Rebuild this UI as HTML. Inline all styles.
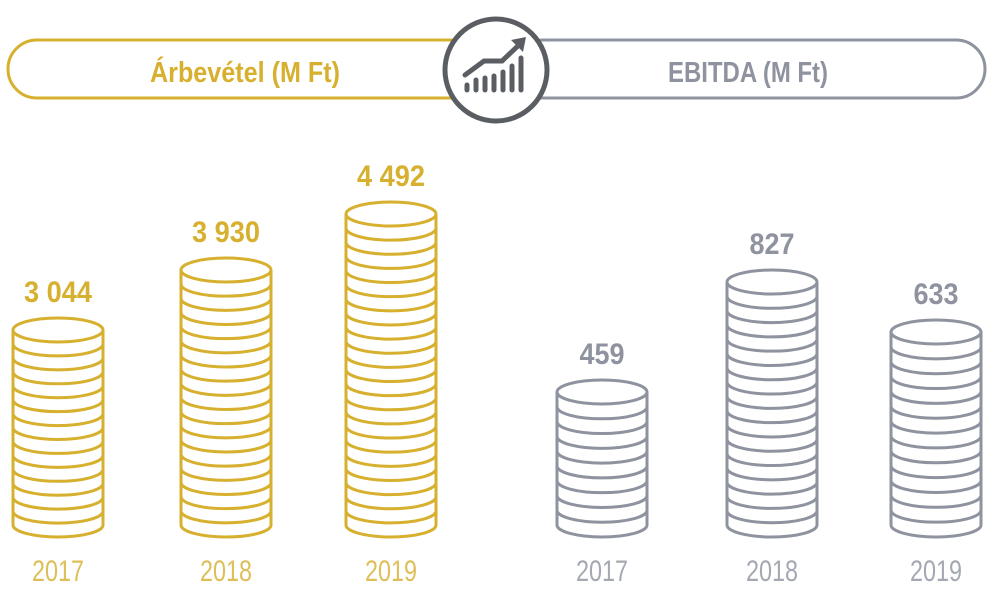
<!DOCTYPE html>
<html><head><meta charset="utf-8"><style>
body{margin:0;background:#fff;width:993px;height:592px;overflow:hidden}
svg{display:block}
.v{font-family:"Liberation Sans",sans-serif;font-weight:bold;font-size:30px;text-anchor:middle}
.y{font-family:"Liberation Sans",sans-serif;font-size:30px;text-anchor:middle}
.h{font-family:"Liberation Sans",sans-serif;font-weight:bold;font-size:29px;text-anchor:middle}
</style></head><body>
<svg id="s" width="993" height="592" viewBox="0 0 993 592">
<rect x="8" y="40" width="470" height="58" rx="29" fill="none" stroke="#d6b02e" stroke-width="3"/>
<rect x="515" y="40" width="470" height="58" rx="29" fill="none" stroke="#8e939f" stroke-width="3"/>
<circle cx="496" cy="70" r="51" fill="#fff" stroke="#5a5e63" stroke-width="5"/>
<g stroke="#5a5e63" stroke-width="5" stroke-linecap="round" fill="none">
<line x1="467" y1="85" x2="467" y2="90"/><line x1="476" y1="80" x2="476" y2="90"/>
<line x1="485" y1="78" x2="485" y2="90"/><line x1="494" y1="76" x2="494" y2="90"/>
<line x1="503" y1="72" x2="503" y2="90"/><line x1="512" y1="66" x2="512" y2="90"/>
<line x1="521" y1="58" x2="521" y2="90"/>
<polyline points="465,75 484,61 502,61 522,42"/>
</g>
<polygon points="526,37 511,40 523,52" fill="#5a5e63"/>
<text x="245" y="82" class="h" fill="#d6b02e" textLength="190" lengthAdjust="spacingAndGlyphs">Árbevétel (M Ft)</text>
<text x="748" y="82" class="h" fill="#8e939f" textLength="160" lengthAdjust="spacingAndGlyphs">EBITDA (M Ft)</text>
</svg>
<script>
var s=document.getElementById('s'),NS='http://www.w3.org/2000/svg';
function el(t,a,txt){var e=document.createElementNS(NS,t);for(var k in a)e.setAttribute(k,a[k]);if(txt)e.textContent=txt;s.appendChild(e);}
var G='#d6b02e',R='#8e939f';
var st=[[58,330,G,'3 044','2017',68],[226,270,G,'3 930','2018',68],[391,214,G,'4 492','2019',68],[602,392,R,'459','2017',45],[772,282,R,'827','2018',45],[936,332,R,'633','2019',45]];
st.forEach(function(d){var cx=d[0],top=d[1],c=d[2],rx=45,ry=12,bot=525;
 el('ellipse',{cx:cx,cy:top,rx:rx,ry:ry,fill:'none',stroke:c,'stroke-width':3});
 var n=Math.round((bot-top)/14.3),sp=(bot-top)/n;
 for(var i=1;i<=n;i++){var y=top+i*sp;el('path',{d:'M'+(cx-rx)+','+y+' A'+rx+' '+ry+' 0 0 0 '+(cx+rx)+','+y,fill:'none',stroke:c,'stroke-width':3});}
 el('line',{x1:cx-rx,y1:top,x2:cx-rx,y2:bot,stroke:c,'stroke-width':3});
 el('line',{x1:cx+rx,y1:top,x2:cx+rx,y2:bot,stroke:c,'stroke-width':3});
 el('text',{x:cx,y:top-28,'class':'v',fill:c,textLength:d[5],lengthAdjust:'spacingAndGlyphs'},d[3]);
 el('text',{x:cx,y:581,'class':'y',fill:c,opacity:0.8,textLength:52,lengthAdjust:'spacingAndGlyphs'},d[4]);
});
</script>
</body></html>
